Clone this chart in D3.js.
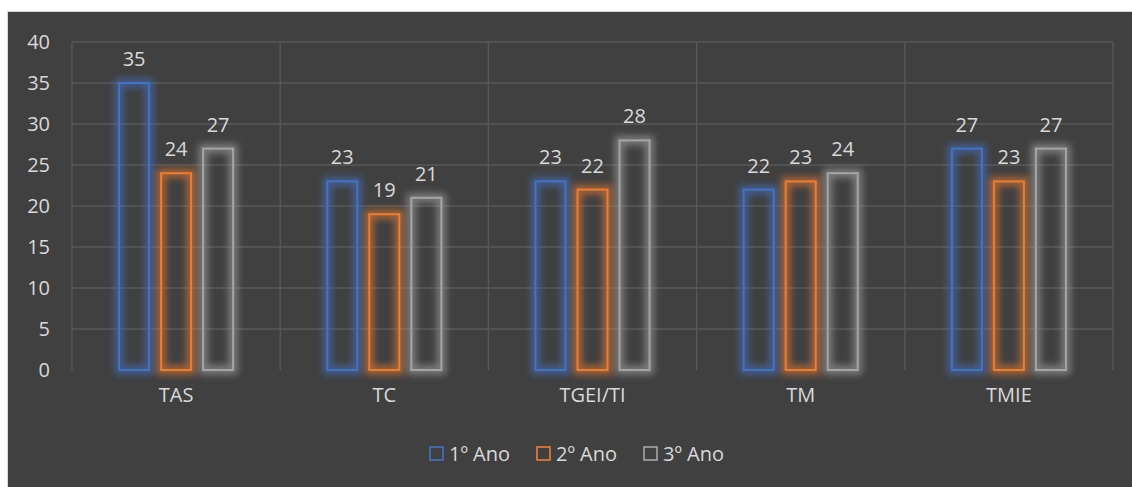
<!DOCTYPE html>
<html><head><meta charset="utf-8">
<script src="https://cdn.jsdelivr.net/npm/d3@7"></script>
<style>body{margin:0;background:#fff;}svg{display:block;}</style>
</head><body>
<script>
const categories = ["TAS","TC","TGEI/TI","TM","TMIE"];
const seriesNames = ["1º Ano","2º Ano","3º Ano"];
const ano1 = [35,23,23,22,27];
const ano2 = [24,19,22,23,23];
const ano3 = [27,21,28,24,27];
const yTicks = [0,5,10,15,20,25,30,35,40];
const colors = ["#4472C4","#ED7D31","#A5A5A5"];
const series = [ano1, ano2, ano3];

const W=1132,H=487;
const svg=d3.select("body").append("svg").attr("width",W).attr("height",H);
const defs=svg.append("defs");
colors.forEach((c,i)=>{
  const f=defs.append("filter").attr("id","glow"+i).attr("x","-50%").attr("y","-20%").attr("width","200%").attr("height","140%");
  f.append("feGaussianBlur").attr("stdDeviation",3.5);
});
svg.append("rect").attr("x",7).attr("y",11).attr("width",W-7).attr("height",H-11).attr("fill","#d9d9d9");
svg.append("rect").attr("x",8).attr("y",12).attr("width",W-8).attr("height",H-12).attr("fill","#404040");

const L=72,R=1113,T=42,B=370;
const x=d3.scaleBand().domain(categories).range([L,R]);
const y=d3.scaleLinear().domain([0,40]).range([B,T]);
const xs=d3.scaleBand().domain(d3.range(3)).range([0,x.bandwidth()]).paddingInner(0.286).paddingOuter(1.12);

const font="'Open Sans','Noto Sans',sans-serif";
const fs="20px";
// grid
const g=svg.append("g");
g.selectAll("line.h").data(yTicks.filter(t=>t>0)).join("line")
 .attr("x1",L).attr("x2",R).attr("y1",d=>y(d)).attr("y2",d=>y(d))
 .attr("stroke","#595959").attr("stroke-width",1.3);
const vb=categories.map(c=>x(c)).concat([R]);
g.selectAll("line.v").data(vb).join("line")
 .attr("x1",d=>d).attr("x2",d=>d).attr("y1",T).attr("y2",B)
 .attr("stroke","#595959").attr("stroke-width",1.3);

// y axis
const ya=svg.append("g").attr("transform",`translate(${L-22},0)`)
 .call(d3.axisLeft(y).tickValues(yTicks).tickSize(0).tickPadding(0));
ya.select(".domain").remove();
ya.selectAll("text").attr("fill","#d9d9d9").style("font-family",font).style("font-size",fs);

// x axis
const xa=svg.append("g").attr("transform",`translate(0,${B})`)
 .call(d3.axisBottom(x).tickSize(0).tickPadding(18));
xa.select(".domain").remove();
xa.selectAll("text").attr("fill","#d9d9d9").style("font-family",font).style("font-size",fs);

// bars
series.forEach((vals,si)=>{
  const gg=svg.append("g");
  const data=categories.map((c,i)=>({c,v:vals[i]}));
  gg.selectAll("rect.glow").data(data).join("rect")
   .attr("x",d=>x(d.c)+xs(si)).attr("y",d=>y(d.v)).attr("width",xs.bandwidth()).attr("height",d=>B-y(d.v))
   .attr("fill","none").attr("stroke",colors[si]).attr("stroke-width",9).attr("stroke-opacity",0.6)
   .attr("filter",`url(#glow${si})`);
  gg.selectAll("rect.bar").data(data).join("rect")
   .attr("x",d=>x(d.c)+xs(si)).attr("y",d=>y(d.v)).attr("width",xs.bandwidth()).attr("height",d=>B-y(d.v))
   .attr("fill","none").attr("stroke",colors[si]).attr("stroke-width",2);
  gg.selectAll("text").data(data).join("text")
   .attr("x",d=>x(d.c)+xs(si)+xs.bandwidth()/2).attr("y",d=>y(d.v)-17)
   .attr("text-anchor","middle").attr("fill","#d9d9d9").style("font-family",font).style("font-size",fs)
   .text(d=>d.v);
});

// legend
const legX=[430,537,644];
const lg=svg.append("g");
seriesNames.forEach((n,i)=>{
  lg.append("rect").attr("x",legX[i]).attr("y",447).attr("width",13).attr("height",13)
   .attr("fill","none").attr("stroke",colors[i]).attr("stroke-width",1.6);
  lg.append("text").attr("x",legX[i]+19).attr("y",461).attr("fill","#d9d9d9")
   .style("font-family",font).style("font-size",fs).text(n);
});
</script>
</body></html>
